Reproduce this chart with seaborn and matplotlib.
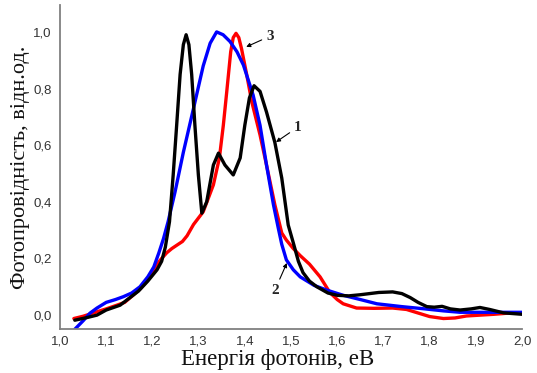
import numpy as np
import pandas as pd
import matplotlib
matplotlib.use('Agg')
import matplotlib.pyplot as plt
import seaborn as sns

# curve 1 (black)
x1 = [1.032, 1.06, 1.08, 1.10, 1.13, 1.15, 1.17, 1.19, 1.20, 1.21, 1.22, 1.228, 1.237,
      1.245, 1.2525, 1.26, 1.267, 1.273, 1.279, 1.285, 1.292, 1.2995, 1.307, 1.3175,
      1.332, 1.343, 1.357, 1.375, 1.39, 1.40, 1.41, 1.42, 1.433, 1.447, 1.465,
      1.48, 1.494, 1.505, 1.516, 1.526, 1.54, 1.556, 1.58, 1.60, 1.625, 1.65, 1.69, 1.72,
      1.74, 1.758, 1.775, 1.794, 1.81, 1.827, 1.845, 1.866, 1.89, 1.909, 1.93, 1.96, 2.0]
y1 = [-0.018, -0.008, 0.0, 0.018, 0.035, 0.06, 0.085, 0.12, 0.14, 0.16, 0.19, 0.24, 0.33,
      0.495, 0.67, 0.85, 0.955, 0.99, 0.955, 0.85, 0.67, 0.495, 0.36, 0.40,
      0.53, 0.572, 0.53, 0.495, 0.555, 0.67, 0.767, 0.81, 0.79, 0.717, 0.61,
      0.484, 0.318, 0.255, 0.19, 0.15, 0.12, 0.10, 0.078, 0.07, 0.068, 0.072, 0.08, 0.082,
      0.076, 0.062, 0.045, 0.03, 0.028, 0.031, 0.022, 0.018, 0.022, 0.027, 0.02, 0.008, 0.003]

# curve 2 (blue)
x2 = [1.032, 1.05, 1.065, 1.08, 1.10, 1.12, 1.137, 1.155, 1.173, 1.19, 1.203, 1.214,
      1.224, 1.234, 1.249, 1.267, 1.289, 1.31, 1.325, 1.339, 1.353, 1.368, 1.383,
      1.397, 1.418, 1.433, 1.447, 1.462, 1.4725, 1.48, 1.49, 1.505, 1.52,
      1.55, 1.578, 1.613, 1.65, 1.686, 1.74, 1.79, 1.83, 1.866, 1.92, 2.0]
y2 = [-0.05, -0.02, 0.007, 0.025, 0.045, 0.055, 0.065, 0.078, 0.10, 0.135, 0.17, 0.22,
      0.27, 0.33, 0.435, 0.575, 0.73, 0.88, 0.96, 1.0, 0.99, 0.966, 0.93,
      0.883, 0.777, 0.67, 0.53, 0.39, 0.307, 0.25, 0.195, 0.16, 0.135,
      0.105, 0.088, 0.07, 0.055, 0.04, 0.03, 0.022, 0.015, 0.01, 0.01, 0.01]

# curve 3 (red)
x3 = [1.03, 1.05, 1.071, 1.09, 1.10, 1.123, 1.14, 1.158, 1.175, 1.188, 1.20, 1.21, 1.22,
      1.231, 1.242, 1.253, 1.265, 1.275, 1.289, 1.31, 1.332, 1.345, 1.3535, 1.361,
      1.3695, 1.375, 1.381, 1.387, 1.393, 1.404, 1.415, 1.433, 1.447, 1.465, 1.48,
      1.49, 1.505, 1.52, 1.54, 1.563, 1.584, 1.60, 1.613, 1.642, 1.68, 1.72, 1.75,
      1.77, 1.80, 1.83, 1.855, 1.88, 1.94, 1.97]
y3 = [-0.012, -0.004, 0.007, 0.017, 0.022, 0.035, 0.045, 0.07, 0.095, 0.12, 0.15, 0.18, 0.20,
      0.22, 0.235, 0.247, 0.26, 0.28, 0.32, 0.365, 0.46, 0.555, 0.67, 0.79,
      0.93, 0.98, 0.995, 0.98, 0.94, 0.85, 0.754, 0.636, 0.53, 0.39, 0.29,
      0.265, 0.235, 0.21, 0.18, 0.135, 0.08, 0.055, 0.04, 0.025, 0.024, 0.025, 0.02,
      0.01, -0.005, -0.012, -0.01, -0.003, 0.003, 0.007]

xticks = [1.0, 1.1, 1.2, 1.3, 1.4, 1.5, 1.6, 1.7, 1.8, 1.9, 2.0]
yticks = [0.0, 0.2, 0.4, 0.6, 0.8, 1.0]

sns.set_style("white")
serif = ['Liberation Serif', 'DejaVu Serif']
sans = ['Liberation Sans', 'DejaVu Sans']

fig = plt.figure(figsize=(5.37, 3.73), dpi=100)
ax = fig.add_axes([60 / 537, 44 / 373, 462 / 537, 324 / 373])

for xs, ys, col in [(x3, y3, 'red'), (x2, y2, 'blue'), (x1, y1, 'black')]:
    df = pd.DataFrame({'x': xs, 'y': ys})
    sns.lineplot(data=df, x='x', y='y', color=col, lw=2.4, sort=False,
                 estimator=None, ax=ax, solid_capstyle='round', solid_joinstyle='round')

ax.set_xlim(1.0, 2.0)
ax.set_ylim(-0.049, 1.095)
ax.set_xticks(xticks)
ax.set_yticks(yticks)
ax.set_xticklabels([f'{v:.1f}'.replace('.', ',') for v in xticks])
ax.set_yticklabels([f'{v:.1f}'.replace('.', ',') for v in yticks])
ax.tick_params(axis='both', length=0, labelsize=9.5, labelcolor='#333333')
ax.tick_params(axis='x', pad=5)
ax.tick_params(axis='y', pad=6)
for lab in ax.get_xticklabels() + ax.get_yticklabels():
    lab.set_family(sans)

for s in ['top', 'right']:
    ax.spines[s].set_visible(False)
for s in ['left', 'bottom']:
    ax.spines[s].set_color('#808080')
    ax.spines[s].set_linewidth(1.3)

ax.set_xlabel('Енергія фотонів, еВ', family=serif, fontsize=16.5, color='#111111')
ax.set_ylabel('Фотопровідність, відн.од.', family=serif, fontsize=16, color='#111111')
ax.xaxis.set_label_coords(0.47, -0.062)
ax.yaxis.set_label_coords(-0.064, 0.5)

arrow = dict(arrowstyle='-|>', lw=0.8, color='black', mutation_scale=6,
             shrinkA=1, shrinkB=0)
for lab, xy, xt in [('3', (1.403, 0.947), (1.4545, 0.985)),
                    ('1', (1.4675, 0.611), (1.515, 0.664)),
                    ('2', (1.491, 0.184), (1.465, 0.088))]:
    ax.annotate(lab, xy=xy, xytext=xt, family=serif, fontsize=11, fontweight='bold',
                ha='center', va='center', arrowprops=arrow)

fig.savefig('out.png', dpi=100)
